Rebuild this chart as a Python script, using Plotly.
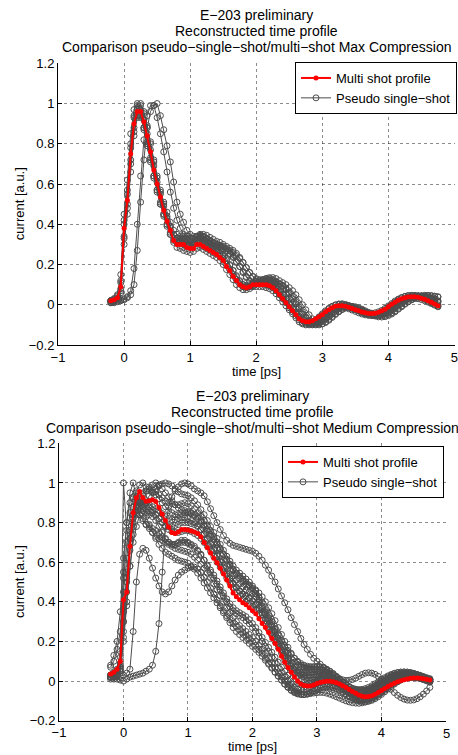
import plotly.graph_objects as go

# ---------------- data ----------------
TIME = [-0.20, -0.15, -0.10, -0.05, 0.00, 0.05, 0.10, 0.15, 0.20, 0.25,
        0.30, 0.35, 0.40, 0.45, 0.50, 0.55, 0.60, 0.65, 0.70, 0.75,
        0.80, 0.85, 0.90, 0.95, 1.00, 1.05, 1.10, 1.15, 1.20, 1.25,
        1.30, 1.35, 1.40, 1.45, 1.50, 1.55, 1.60, 1.65, 1.70, 1.75,
        1.80, 1.85, 1.90, 1.95, 2.00, 2.05, 2.10, 2.15, 2.20, 2.25,
        2.30, 2.35, 2.40, 2.45, 2.50, 2.55, 2.60, 2.65, 2.70, 2.75,
        2.80, 2.85, 2.90, 2.95, 3.00, 3.05, 3.10, 3.15, 3.20, 3.25,
        3.30, 3.35, 3.40, 3.45, 3.50, 3.55, 3.60, 3.65, 3.70, 3.75,
        3.80, 3.85, 3.90, 3.95, 4.00, 4.05, 4.10, 4.15, 4.20, 4.25,
        4.30, 4.35, 4.40, 4.45, 4.50, 4.55, 4.60, 4.65, 4.70, 4.75]

# --- Max compression: multi-shot profile
MAX_MULTI = [0.02, 0.025, 0.035, 0.09, 0.38, 0.52, 0.75, 0.90, 0.96, 0.96,
             0.91, 0.84, 0.76, 0.67, 0.60, 0.535, 0.47, 0.415, 0.37, 0.32,
             0.30, 0.30, 0.30, 0.285, 0.28, 0.28, 0.30, 0.30, 0.29, 0.28,
             0.27, 0.26, 0.25, 0.235, 0.22, 0.19, 0.17, 0.14, 0.12, 0.10,
             0.09, 0.085, 0.09, 0.10, 0.10, 0.10, 0.10, 0.10, 0.095, 0.085,
             0.07, 0.05, 0.03, 0.01, -0.01, -0.03, -0.05, -0.07, -0.08, -0.085,
             -0.085, -0.08, -0.07, -0.06, -0.05, -0.035, -0.025, -0.015, -0.008, -0.005,
             -0.005, -0.008, -0.012, -0.018, -0.025, -0.03, -0.036, -0.04, -0.043, -0.044,
             -0.042, -0.037, -0.03, -0.022, -0.01, 0.002, 0.012, 0.022, 0.03, 0.035,
             0.039, 0.04, 0.04, 0.037, 0.032, 0.027, 0.02, 0.012, 0.004, -0.005]

# --- Max compression: pseudo single-shot profiles
MAX_SHOT_1 = [0.02, 0.03, 0.05, 0.15, 0.45, 0.62, 0.85, 0.97, 1.00, 0.95,
              0.88, 0.80, 0.72, 0.64, 0.57, 0.50, 0.44, 0.39, 0.35, 0.32,
              0.31, 0.31, 0.30, 0.29, 0.29, 0.30, 0.31, 0.31, 0.30, 0.29,
              0.28, 0.27, 0.26, 0.245, 0.23, 0.20, 0.175, 0.15, 0.125, 0.105,
              0.09, 0.085, 0.09, 0.10, 0.105, 0.105, 0.105, 0.10, 0.095, 0.085,
              0.07, 0.05, 0.03, 0.01, -0.015, -0.035, -0.055, -0.075, -0.09, -0.095,
              -0.095, -0.09, -0.08, -0.065, -0.05, -0.035, -0.02, -0.01, -0.002, 0.002,
              0.002, -0.002, -0.008, -0.015, -0.022, -0.03, -0.038, -0.044, -0.048, -0.05,
              -0.048, -0.043, -0.035, -0.025, -0.012, 0.0, 0.012, 0.024, 0.034, 0.04,
              0.044, 0.045, 0.044, 0.04, 0.034, 0.027, 0.018, 0.01, 0.002, -0.006]
MAX_SHOT_2 = [0.015, 0.02, 0.03, 0.06, 0.30, 0.45, 0.66, 0.84, 0.94, 0.99,
              0.95, 0.88, 0.80, 0.71, 0.63, 0.56, 0.50, 0.44, 0.39, 0.35,
              0.33, 0.32, 0.32, 0.31, 0.30, 0.31, 0.32, 0.33, 0.32, 0.31,
              0.30, 0.29, 0.28, 0.27, 0.25, 0.23, 0.20, 0.17, 0.14, 0.115,
              0.10, 0.095, 0.10, 0.11, 0.115, 0.115, 0.11, 0.105, 0.10, 0.09,
              0.08, 0.06, 0.04, 0.02, 0.0, -0.02, -0.04, -0.06, -0.075, -0.085,
              -0.09, -0.085, -0.075, -0.06, -0.045, -0.03, -0.018, -0.008, 0.0, 0.004,
              0.005, 0.002, -0.004, -0.01, -0.018, -0.026, -0.033, -0.038, -0.041, -0.042,
              -0.04, -0.035, -0.028, -0.018, -0.006, 0.006, 0.018, 0.028, 0.036, 0.042,
              0.046, 0.047, 0.046, 0.043, 0.038, 0.032, 0.025, 0.016, 0.008, 0.0]
MAX_SHOT_3 = [0.02, 0.02, 0.03, 0.08, 0.34, 0.50, 0.70, 0.86, 0.93, 0.93,
              0.88, 0.81, 0.73, 0.64, 0.57, 0.51, 0.45, 0.40, 0.35, 0.31,
              0.285, 0.28, 0.27, 0.265, 0.26, 0.265, 0.28, 0.285, 0.275, 0.265,
              0.255, 0.245, 0.235, 0.22, 0.20, 0.175, 0.15, 0.125, 0.10, 0.085,
              0.075, 0.075, 0.08, 0.09, 0.09, 0.09, 0.09, 0.085, 0.08, 0.07,
              0.055, 0.035, 0.015, -0.005, -0.025, -0.045, -0.065, -0.085, -0.095, -0.10,
              -0.10, -0.095, -0.085, -0.072, -0.06, -0.045, -0.033, -0.022, -0.015, -0.012,
              -0.012, -0.015, -0.02, -0.026, -0.033, -0.04, -0.046, -0.05, -0.053, -0.054,
              -0.052, -0.047, -0.04, -0.031, -0.02, -0.008, 0.003, 0.013, 0.021, 0.027,
              0.031, 0.033, 0.032, 0.03, 0.026, 0.02, 0.013, 0.006, -0.002, -0.01]
MAX_SHOT_4 = [0.02, 0.025, 0.04, 0.12, 0.42, 0.57, 0.80, 0.94, 0.99, 0.97,
              0.92, 0.85, 0.77, 0.69, 0.61, 0.55, 0.49, 0.43, 0.39, 0.35,
              0.33, 0.33, 0.33, 0.32, 0.31, 0.31, 0.32, 0.33, 0.34, 0.33,
              0.32, 0.31, 0.30, 0.29, 0.28, 0.27, 0.255, 0.24, 0.21, 0.19,
              0.16, 0.135, 0.115, 0.105, 0.105, 0.11, 0.12, 0.125, 0.125, 0.12,
              0.11, 0.10, 0.09, 0.075, 0.055, 0.03, 0.005, -0.02, -0.045, -0.065,
              -0.08, -0.09, -0.092, -0.09, -0.08, -0.068, -0.055, -0.04, -0.028, -0.018,
              -0.01, -0.006, -0.005, -0.008, -0.014, -0.02, -0.028, -0.035, -0.042, -0.047,
              -0.05, -0.05, -0.047, -0.042, -0.034, -0.024, -0.012, 0.0, 0.012, 0.022,
              0.03, 0.036, 0.04, 0.042, 0.042, 0.04, 0.037, 0.032, 0.026, 0.02]
MAX_SHOT_5 = [0.02, 0.02, 0.03, 0.07, 0.33, 0.48, 0.72, 0.88, 0.97, 1.00,
              0.96, 0.89, 0.81, 0.72, 0.64, 0.57, 0.51, 0.46, 0.41, 0.37,
              0.35, 0.34, 0.34, 0.34, 0.33, 0.33, 0.34, 0.35, 0.35, 0.345,
              0.335, 0.325, 0.315, 0.31, 0.30, 0.29, 0.28, 0.27, 0.255, 0.235,
              0.21, 0.185, 0.16, 0.14, 0.125, 0.12, 0.125, 0.13, 0.135, 0.135,
              0.13, 0.12, 0.11, 0.10, 0.085, 0.07, 0.05, 0.025, 0.0, -0.025,
              -0.05, -0.07, -0.085, -0.095, -0.095, -0.088, -0.077, -0.063, -0.048, -0.035,
              -0.024, -0.015, -0.01, -0.008, -0.01, -0.015, -0.022, -0.03, -0.038, -0.045,
              -0.05, -0.054, -0.055, -0.053, -0.048, -0.04, -0.03, -0.018, -0.006, 0.006,
              0.017, 0.027, 0.035, 0.041, 0.045, 0.047, 0.047, 0.046, 0.043, 0.04]
MAX_SHOT_6 = [0.01, 0.01, 0.015, 0.02, 0.025, 0.035, 0.05, 0.10, 0.27, 0.51,
              0.72, 0.88, 0.96, 0.99, 1.00, 0.94, 0.87, 0.79, 0.71, 0.61,
              0.51, 0.45, 0.41, 0.37, 0.35, 0.34, 0.34, 0.345, 0.34, 0.33,
              0.32, 0.31, 0.30, 0.295, 0.29, 0.28, 0.27, 0.26, 0.245, 0.23,
              0.21, 0.185, 0.16, 0.14, 0.13, 0.125, 0.125, 0.13, 0.13, 0.125,
              0.115, 0.105, 0.095, 0.08, 0.06, 0.04, 0.015, -0.01, -0.035, -0.06,
              -0.08, -0.095, -0.10, -0.10, -0.095, -0.085, -0.072, -0.058, -0.044, -0.032,
              -0.022, -0.015, -0.012, -0.012, -0.015, -0.02, -0.027, -0.035, -0.043, -0.05,
              -0.056, -0.06, -0.061, -0.059, -0.054, -0.046, -0.035, -0.022, -0.01, 0.003,
              0.014, 0.024, 0.032, 0.038, 0.042, 0.044, 0.044, 0.043, 0.041, 0.038]
MAX_SHOT_7 = [0.01, 0.015, 0.02, 0.025, 0.03, 0.04, 0.07, 0.18, 0.40, 0.64,
              0.82, 0.94, 0.99, 0.99, 0.93, 0.85, 0.76, 0.66, 0.56, 0.48,
              0.42, 0.38, 0.35, 0.34, 0.33, 0.33, 0.335, 0.34, 0.335, 0.325,
              0.315, 0.305, 0.295, 0.285, 0.275, 0.265, 0.25, 0.235, 0.215, 0.19,
              0.165, 0.14, 0.12, 0.11, 0.11, 0.115, 0.12, 0.12, 0.12, 0.115,
              0.105, 0.09, 0.075, 0.055, 0.03, 0.005, -0.02, -0.045, -0.07, -0.085,
              -0.095, -0.1, -0.097, -0.088, -0.076, -0.062, -0.048, -0.035, -0.024, -0.016,
              -0.012, -0.011, -0.013, -0.018, -0.024, -0.031, -0.038, -0.045, -0.05, -0.053,
              -0.054, -0.052, -0.047, -0.039, -0.029, -0.017, -0.005, 0.008, 0.019, 0.028,
              0.035, 0.04, 0.043, 0.044, 0.043, 0.04, 0.036, 0.03, 0.024, 0.017]
MAX_SHOT_8 = [0.02, 0.03, 0.045, 0.11, 0.40, 0.55, 0.78, 0.93, 0.98, 0.94,
              0.87, 0.79, 0.71, 0.63, 0.56, 0.50, 0.45, 0.40, 0.36, 0.33,
              0.32, 0.315, 0.31, 0.30, 0.295, 0.30, 0.315, 0.32, 0.31, 0.30,
              0.29, 0.28, 0.27, 0.255, 0.24, 0.22, 0.195, 0.17, 0.145, 0.12,
              0.10, 0.09, 0.09, 0.095, 0.105, 0.11, 0.11, 0.11, 0.105, 0.095,
              0.085, 0.07, 0.05, 0.03, 0.008, -0.015, -0.037, -0.058, -0.075, -0.088,
              -0.095, -0.095, -0.09, -0.08, -0.066, -0.052, -0.038, -0.025, -0.015, -0.008,
              -0.004, -0.004, -0.007, -0.012, -0.018, -0.025, -0.032, -0.039, -0.045, -0.049,
              -0.051, -0.05, -0.046, -0.039, -0.029, -0.017, -0.004, 0.009, 0.02, 0.03,
              0.037, 0.042, 0.045, 0.045, 0.043, 0.039, 0.034, 0.027, 0.02, 0.012]
MAX_SHOTS = [MAX_SHOT_1, MAX_SHOT_2, MAX_SHOT_3, MAX_SHOT_4,
             MAX_SHOT_5, MAX_SHOT_6, MAX_SHOT_7, MAX_SHOT_8]

# --- Medium compression: multi-shot profile
MED_MULTI = [0.036, 0.045, 0.06, 0.10, 0.41, 0.45, 0.68, 0.85, 0.925, 0.957,
             0.925, 0.908, 0.91, 0.915, 0.906, 0.876, 0.843, 0.81, 0.778, 0.75,
             0.745, 0.752, 0.765, 0.765, 0.762, 0.757, 0.752, 0.745, 0.728, 0.70,
             0.673, 0.647, 0.62, 0.597, 0.57, 0.54, 0.51, 0.48, 0.445, 0.425,
             0.41, 0.395, 0.385, 0.37, 0.355, 0.34, 0.315, 0.29, 0.27, 0.245,
             0.215, 0.19, 0.16, 0.125, 0.095, 0.068, 0.045, 0.02, 0.0, -0.015,
             -0.022, -0.025, -0.025, -0.02, -0.012, -0.007, -0.003, -0.001, -0.001, -0.004,
             -0.008, -0.015, -0.024, -0.033, -0.043, -0.053, -0.062, -0.07, -0.076, -0.079,
             -0.078, -0.074, -0.067, -0.058, -0.048, -0.038, -0.028, -0.019, -0.011, -0.004,
             0.002, 0.007, 0.011, 0.014, 0.015, 0.015, 0.014, 0.012, 0.009, 0.005]

# --- Medium compression: pseudo single-shot profiles
MED_SHOT_1 = [0.03, 0.04, 0.06, 0.15, 0.55, 0.80, 0.95, 1.00, 0.93, 0.88,
              0.86, 0.85, 0.84, 0.83, 0.81, 0.78, 0.75, 0.72, 0.70, 0.69,
              0.69, 0.70, 0.71, 0.71, 0.70, 0.69, 0.68, 0.66, 0.64, 0.61,
              0.58, 0.55, 0.52, 0.49, 0.46, 0.43, 0.40, 0.375, 0.355, 0.34,
              0.33, 0.32, 0.305, 0.29, 0.27, 0.25, 0.225, 0.20, 0.175, 0.15,
              0.12, 0.09, 0.065, 0.04, 0.02, 0.0, -0.015, -0.03, -0.04, -0.045,
              -0.045, -0.04, -0.03, -0.02, -0.01, -0.002, 0.004, 0.006, 0.004, -0.002,
              -0.01, -0.02, -0.032, -0.045, -0.058, -0.07, -0.08, -0.088, -0.092, -0.093,
              -0.09, -0.084, -0.075, -0.064, -0.052, -0.04, -0.027, -0.015, -0.004, 0.005,
              0.012, 0.017, 0.02, 0.021, 0.02, 0.018, 0.014, 0.009, 0.003, -0.003]
MED_SHOT_2 = [0.02, 0.025, 0.035, 0.07, 0.30, 0.50, 0.72, 0.88, 0.96, 0.99,
              1.00, 0.98, 0.96, 0.95, 0.94, 0.92, 0.90, 0.88, 0.86, 0.85,
              0.84, 0.84, 0.845, 0.85, 0.85, 0.845, 0.835, 0.82, 0.80, 0.78,
              0.755, 0.73, 0.70, 0.67, 0.64, 0.61, 0.58, 0.555, 0.53, 0.51,
              0.49, 0.475, 0.46, 0.45, 0.44, 0.425, 0.40, 0.37, 0.34, 0.31,
              0.28, 0.25, 0.215, 0.18, 0.145, 0.115, 0.09, 0.07, 0.055, 0.045,
              0.04, 0.04, 0.042, 0.045, 0.047, 0.046, 0.042, 0.035, 0.025, 0.012,
              0.0, -0.012, -0.024, -0.035, -0.045, -0.053, -0.058, -0.06, -0.06, -0.057,
              -0.052, -0.044, -0.035, -0.025, -0.014, -0.003, 0.008, 0.017, 0.025, 0.031,
              0.035, 0.037, 0.038, 0.037, 0.034, 0.03, 0.025, 0.019, 0.013, 0.007]
MED_SHOT_3 = [0.02, 0.02, 0.03, 0.05, 0.20, 0.38, 0.58, 0.74, 0.84, 0.90,
              0.94, 0.96, 0.98, 0.99, 1.00, 0.99, 0.97, 0.95, 0.93, 0.91,
              0.89, 0.875, 0.865, 0.86, 0.855, 0.85, 0.84, 0.83, 0.81, 0.79,
              0.765, 0.74, 0.715, 0.69, 0.665, 0.64, 0.615, 0.59, 0.565, 0.545,
              0.53, 0.515, 0.50, 0.485, 0.465, 0.44, 0.41, 0.38, 0.35, 0.32,
              0.29, 0.26, 0.23, 0.20, 0.17, 0.14, 0.115, 0.095, 0.08, 0.07,
              0.065, 0.062, 0.06, 0.06, 0.06, 0.058, 0.054, 0.047, 0.038, 0.028,
              0.016, 0.004, -0.008, -0.02, -0.03, -0.038, -0.044, -0.047, -0.048, -0.046,
              -0.042, -0.036, -0.028, -0.018, -0.008, 0.002, 0.012, 0.02, 0.027, 0.032,
              0.036, 0.038, 0.038, 0.037, 0.034, 0.03, 0.025, 0.019, 0.013, 0.008]
MED_SHOT_4 = [0.03, 0.035, 0.05, 0.09, 0.35, 0.55, 0.72, 0.82, 0.85, 0.84,
              0.82, 0.79, 0.77, 0.75, 0.73, 0.72, 0.71, 0.70, 0.69, 0.68,
              0.67, 0.665, 0.66, 0.655, 0.65, 0.64, 0.625, 0.61, 0.59, 0.57,
              0.545, 0.52, 0.49, 0.46, 0.43, 0.40, 0.37, 0.345, 0.32, 0.30,
              0.28, 0.265, 0.25, 0.235, 0.22, 0.20, 0.18, 0.16, 0.14, 0.115,
              0.09, 0.065, 0.04, 0.02, 0.0, -0.02, -0.035, -0.05, -0.06, -0.065,
              -0.067, -0.065, -0.06, -0.052, -0.044, -0.037, -0.032, -0.03, -0.031, -0.035,
              -0.041, -0.049, -0.058, -0.068, -0.078, -0.087, -0.095, -0.1, -0.103, -0.104,
              -0.102, -0.097, -0.089, -0.079, -0.067, -0.054, -0.04, -0.027, -0.015, -0.004,
              0.005, 0.012, 0.016, 0.018, 0.018, 0.016, 0.013, 0.008, 0.002, -0.004]
MED_SHOT_5 = [0.07, 0.10, 0.16, 0.25, 0.52, 0.70, 0.85, 0.93, 0.95, 0.92,
              0.89, 0.87, 0.86, 0.85, 0.84, 0.82, 0.80, 0.785, 0.78, 0.78,
              0.785, 0.79, 0.80, 0.80, 0.80, 0.795, 0.79, 0.78, 0.765, 0.745,
              0.72, 0.695, 0.665, 0.635, 0.605, 0.575, 0.545, 0.52, 0.495, 0.475,
              0.455, 0.44, 0.43, 0.42, 0.405, 0.385, 0.36, 0.335, 0.305, 0.275,
              0.245, 0.215, 0.185, 0.155, 0.125, 0.10, 0.075, 0.055, 0.04, 0.03,
              0.022, 0.018, 0.018, 0.02, 0.024, 0.026, 0.026, 0.022, 0.015, 0.006,
              -0.004, -0.015, -0.027, -0.039, -0.05, -0.06, -0.068, -0.073, -0.075, -0.074,
              -0.07, -0.063, -0.054, -0.043, -0.031, -0.019, -0.007, 0.004, 0.013, 0.02,
              0.025, 0.028, 0.029, 0.028, 0.026, 0.023, 0.019, 0.014, 0.009, 0.004]
MED_SHOT_6 = [0.02, 0.03, 0.04, 0.08, 0.30, 0.52, 0.72, 0.84, 0.89, 0.90,
              0.87, 0.83, 0.79, 0.75, 0.72, 0.69, 0.67, 0.65, 0.64, 0.63,
              0.62, 0.61, 0.605, 0.60, 0.595, 0.58, 0.565, 0.545, 0.52, 0.495,
              0.47, 0.445, 0.42, 0.395, 0.37, 0.345, 0.32, 0.295, 0.27, 0.25,
              0.235, 0.22, 0.205, 0.19, 0.175, 0.16, 0.145, 0.125, 0.105, 0.085,
              0.065, 0.045, 0.025, 0.005, -0.015, -0.032, -0.047, -0.058, -0.065, -0.068,
              -0.068, -0.064, -0.057, -0.048, -0.04, -0.033, -0.028, -0.026, -0.027, -0.031,
              -0.037, -0.045, -0.054, -0.064, -0.074, -0.083, -0.09, -0.095, -0.097, -0.096,
              -0.092, -0.086, -0.077, -0.066, -0.054, -0.041, -0.028, -0.016, -0.005, 0.004,
              0.011, 0.016, 0.019, 0.02, 0.019, 0.017, 0.013, 0.008, 0.002, -0.005]
MED_SHOT_7 = [0.02, 0.02, 0.03, 0.06, 0.25, 0.45, 0.66, 0.80, 0.88, 0.93,
              0.95, 0.96, 0.97, 0.965, 0.955, 0.94, 0.925, 0.91, 0.90, 0.895,
              0.89, 0.89, 0.895, 0.90, 0.895, 0.885, 0.87, 0.85, 0.83, 0.81,
              0.785, 0.76, 0.73, 0.70, 0.67, 0.64, 0.61, 0.585, 0.56, 0.54,
              0.52, 0.505, 0.49, 0.48, 0.47, 0.46, 0.445, 0.425, 0.40, 0.37,
              0.34, 0.305, 0.27, 0.235, 0.20, 0.17, 0.14, 0.115, 0.095, 0.08,
              0.072, 0.068, 0.068, 0.07, 0.072, 0.072, 0.068, 0.06, 0.05, 0.038,
              0.024, 0.01, -0.004, -0.017, -0.028, -0.036, -0.041, -0.043, -0.042, -0.038,
              -0.032, -0.024, -0.014, -0.004, 0.007, 0.017, 0.026, 0.033, 0.039, 0.043,
              0.045, 0.046, 0.045, 0.042, 0.038, 0.033, 0.027, 0.021, 0.015, 0.01]
MED_SHOT_8 = [0.08, 0.13, 0.20, 0.35, 0.62, 0.80, 0.90, 0.92, 0.88, 0.84,
              0.81, 0.79, 0.78, 0.77, 0.76, 0.745, 0.73, 0.715, 0.70, 0.69,
              0.69, 0.695, 0.70, 0.70, 0.695, 0.685, 0.67, 0.655, 0.635, 0.61,
              0.585, 0.56, 0.535, 0.505, 0.475, 0.445, 0.415, 0.39, 0.37, 0.355,
              0.345, 0.335, 0.325, 0.31, 0.29, 0.27, 0.245, 0.22, 0.195, 0.17,
              0.145, 0.12, 0.095, 0.07, 0.05, 0.03, 0.012, -0.002, -0.012, -0.018,
              -0.02, -0.018, -0.013, -0.006, 0.0, 0.005, 0.008, 0.008, 0.005, 0.0,
              -0.007, -0.016, -0.026, -0.037, -0.048, -0.058, -0.066, -0.072, -0.075, -0.075,
              -0.072, -0.067, -0.059, -0.049, -0.038, -0.026, -0.014, -0.003, 0.007, 0.015,
              0.021, 0.025, 0.027, 0.027, 0.026, 0.023, 0.019, 0.014, 0.008, 0.002]
MED_SHOT_9 = [0.02, 0.02, 0.03, 0.05, 1.00, 0.76, 0.70, 0.78, 0.86, 0.90,
              0.91, 0.90, 0.88, 0.86, 0.84, 0.82, 0.80, 0.78, 0.765, 0.755,
              0.75, 0.75, 0.755, 0.76, 0.76, 0.755, 0.745, 0.735, 0.72, 0.70,
              0.68, 0.655, 0.63, 0.60, 0.575, 0.55, 0.52, 0.495, 0.47, 0.45,
              0.43, 0.415, 0.40, 0.39, 0.375, 0.36, 0.34, 0.315, 0.29, 0.26,
              0.23, 0.20, 0.17, 0.14, 0.11, 0.085, 0.06, 0.04, 0.025, 0.012,
              0.005, 0.002, 0.002, 0.005, 0.009, 0.012, 0.013, 0.011, 0.006, -0.001,
              -0.01, -0.02, -0.031, -0.042, -0.053, -0.062, -0.069, -0.073, -0.074, -0.072,
              -0.068, -0.061, -0.052, -0.042, -0.031, -0.019, -0.008, 0.003, 0.012, 0.02,
              0.026, 0.03, 0.032, 0.032, 0.03, 0.027, 0.022, 0.017, 0.011, 0.005]
MED_SHOT_10 = [0.02, 0.02, 0.02, 0.025, 0.03, 0.04, 0.06, 0.25, 0.50, 0.64,
               0.67, 0.66, 0.62, 0.57, 0.52, 0.48, 0.45, 0.44, 0.45, 0.48,
               0.51, 0.535, 0.55, 0.56, 0.57, 0.575, 0.575, 0.565, 0.55, 0.525,
               0.50, 0.47, 0.44, 0.41, 0.38, 0.355, 0.33, 0.31, 0.29, 0.275,
               0.26, 0.245, 0.23, 0.215, 0.20, 0.18, 0.16, 0.14, 0.115, 0.09,
               0.07, 0.045, 0.025, 0.005, -0.015, -0.03, -0.045, -0.055, -0.062, -0.066,
               -0.067, -0.066, -0.063, -0.06, -0.058, -0.057, -0.058, -0.061, -0.066, -0.072,
               -0.079, -0.086, -0.093, -0.10, -0.105, -0.109, -0.111, -0.112, -0.11, -0.106,
               -0.10, -0.092, -0.082, -0.071, -0.059, -0.046, -0.033, -0.021, -0.01, 0.0,
               0.008, 0.014, 0.018, 0.02, 0.02, 0.018, 0.015, 0.01, 0.004, -0.002]
MED_SHOT_11 = [0.01, 0.01, 0.01, 0.005, 0.0, 0.01, 0.02, 0.025, 0.03, 0.035,
               0.04, 0.05, 0.06, 0.08, 0.15, 0.29, 0.55, 0.78, 0.88, 0.93,
               0.96, 0.98, 0.995, 1.00, 0.995, 0.985, 0.97, 0.96, 0.95, 0.935,
               0.905, 0.87, 0.835, 0.80, 0.765, 0.735, 0.71, 0.695, 0.685, 0.68,
               0.675, 0.67, 0.665, 0.66, 0.655, 0.645, 0.63, 0.61, 0.585, 0.56,
               0.53, 0.50, 0.465, 0.43, 0.395, 0.36, 0.32, 0.285, 0.25, 0.215,
               0.185, 0.16, 0.135, 0.115, 0.10, 0.085, 0.07, 0.055, 0.04, 0.03,
               0.02, 0.012, 0.006, 0.003, 0.004, 0.008, 0.015, 0.024, 0.033, 0.04,
               0.042, 0.04, 0.034, 0.024, 0.01, -0.006, -0.024, -0.042, -0.058, -0.072,
               -0.083, -0.091, -0.096, -0.097, -0.095, -0.089, -0.079, -0.066, -0.05, -0.032]
MED_SHOT_12 = [0.02, 0.025, 0.03, 0.06, 0.22, 0.40, 0.58, 0.70, 0.78, 0.84,
               0.88, 0.91, 0.935, 0.955, 0.97, 0.985, 0.995, 1.00, 0.995, 0.985,
               0.97, 0.955, 0.945, 0.94, 0.935, 0.925, 0.91, 0.89, 0.865, 0.84,
               0.81, 0.78, 0.75, 0.72, 0.69, 0.66, 0.63, 0.605, 0.58, 0.56,
               0.545, 0.53, 0.515, 0.50, 0.48, 0.455, 0.425, 0.395, 0.36, 0.33,
               0.30, 0.265, 0.235, 0.205, 0.18, 0.155, 0.135, 0.115, 0.10, 0.088,
               0.08, 0.075, 0.073, 0.073, 0.073, 0.071, 0.066, 0.058, 0.048, 0.036,
               0.022, 0.008, -0.006, -0.019, -0.03, -0.039, -0.045, -0.048, -0.048, -0.045,
               -0.04, -0.032, -0.022, -0.011, 0.0, 0.011, 0.021, 0.03, 0.037, 0.042,
               0.045, 0.046, 0.045, 0.043, 0.039, 0.034, 0.029, 0.023, 0.017, 0.012]
MED_SHOT_13 = [0.03, 0.04, 0.05, 0.12, 0.45, 0.62, 0.76, 0.84, 0.88, 0.90,
               0.905, 0.90, 0.89, 0.88, 0.87, 0.86, 0.845, 0.83, 0.82, 0.815,
               0.815, 0.82, 0.825, 0.825, 0.82, 0.81, 0.80, 0.785, 0.765, 0.74,
               0.715, 0.69, 0.66, 0.63, 0.60, 0.57, 0.54, 0.515, 0.49, 0.47,
               0.455, 0.44, 0.43, 0.42, 0.405, 0.39, 0.37, 0.345, 0.315, 0.285,
               0.255, 0.225, 0.19, 0.16, 0.13, 0.105, 0.08, 0.06, 0.045, 0.035,
               0.03, 0.028, 0.03, 0.034, 0.038, 0.04, 0.038, 0.033, 0.025, 0.014,
               0.002, -0.01, -0.022, -0.033, -0.043, -0.051, -0.056, -0.058, -0.057, -0.053,
               -0.047, -0.039, -0.029, -0.018, -0.007, 0.004, 0.014, 0.023, 0.03, 0.035,
               0.038, 0.039, 0.039, 0.037, 0.034, 0.03, 0.025, 0.019, 0.013, 0.008]
MED_SHOTS = [MED_SHOT_1, MED_SHOT_2, MED_SHOT_3, MED_SHOT_4, MED_SHOT_5,
             MED_SHOT_6, MED_SHOT_7, MED_SHOT_8, MED_SHOT_9, MED_SHOT_10,
             MED_SHOT_11, MED_SHOT_12, MED_SHOT_13]

for s in [MAX_MULTI, MED_MULTI] + MAX_SHOTS + MED_SHOTS:
    assert len(s) == len(TIME), len(s)

X_RANGE = [-1, 5.0005]
Y_RANGE = [-0.2, 1.2001]
X_TICKS = [-1, 0, 1, 2, 3, 4, 5]
X_TICK_TEXT = ["\u22121", "0", "1", "2", "3", "4", "5"]
Y_TICKS = [-0.2, 0, 0.2, 0.4, 0.6, 0.8, 1, 1.2]
Y_TICK_TEXT = ["\u22120.2", "0", "0.2", "0.4", "0.6", "0.8", "1", "1.2"]

TITLE_MAX = ["E\u2212203 preliminary", "Reconstructed time profile",
             "Comparison pseudo\u2212single\u2212shot/multi\u2212shot Max Compression"]
TITLE_MED = ["E\u2212203 preliminary", "Reconstructed time profile",
             "Comparison pseudo\u2212single\u2212shot/multi\u2212shot Medium Compression"]
NAME_MULTI = "Multi shot profile"
NAME_SHOT = "Pseudo single\u2212shot"
X_LABEL = "time [ps]"
Y_LABEL = "current [a.u.]"

# ---------------- figure ----------------
W, H = 458, 755
FONT = "Liberation Sans, Arial, Helvetica, sans-serif"
GRAY = "#4d4d4d"
RED = "#ff0000"

fig = go.Figure()


def add_panel(shots, multi, xa, ya, legend_name):
    for k, s in enumerate(shots):
        fig.add_trace(go.Scatter(
            x=TIME, y=s, mode="lines+markers", xaxis=xa, yaxis=ya,
            name=NAME_SHOT, legend=legend_name, showlegend=(k == 0), legendrank=2,
            line=dict(color=GRAY, width=1),
            marker=dict(symbol="circle-open", size=6, color=GRAY, line=dict(width=1, color=GRAY)),
        ))
    fig.add_trace(go.Scatter(
        x=TIME, y=multi, mode="lines+markers", xaxis=xa, yaxis=ya,
        name=NAME_MULTI, legend=legend_name, legendrank=1,
        line=dict(color=RED, width=2),
        marker=dict(symbol="circle", size=5, color=RED),
    ))


add_panel(MAX_SHOTS, MAX_MULTI, "x", "y", "legend")
add_panel(MED_SHOTS, MED_MULTI, "x2", "y2", "legend2")


def px_x(p):
    return p / W


def px_y(p):
    return 1 - p / H


TICK_FONT = dict(family=FONT, size=13, color="black")
axis_common = dict(
    showline=True, linecolor="black", linewidth=1, mirror=False,
    ticks="inside", ticklen=4, tickcolor="black", showgrid=True,
    gridcolor="rgba(0,0,0,0.45)", griddash="dot", gridwidth=1, zeroline=False,
    tickfont=TICK_FONT, ticklabeloverflow="allow",
)
xaxis_common = dict(axis_common, range=X_RANGE, tickvals=X_TICKS, ticktext=X_TICK_TEXT)
yaxis_common = dict(axis_common, range=Y_RANGE, tickvals=Y_TICKS, ticktext=Y_TICK_TEXT)

# panel pixel boxes (left, right, top, bottom)
P1 = (58, 454.5, 63.3, 345)
P2 = (59, 446, 443.3, 720.7)

legend_common = dict(
    bgcolor="white", bordercolor="black", borderwidth=1,
    font=dict(family=FONT, size=13, color="black"),
    xanchor="right", yanchor="top", itemwidth=30, tracegroupgap=0,
)

fig.update_layout(
    width=W, height=H, margin=dict(l=0, r=0, t=0, b=0, autoexpand=False),
    paper_bgcolor="white", plot_bgcolor="white",
    font=dict(family=FONT, size=13, color="black"),
    xaxis=dict(xaxis_common, domain=[px_x(P1[0]), px_x(P1[1])], anchor="y"),
    yaxis=dict(yaxis_common, domain=[px_y(P1[3]), px_y(P1[2])], anchor="x"),
    xaxis2=dict(xaxis_common, domain=[px_x(P2[0]), px_x(P2[1])], anchor="y2",
                ticktext=X_TICK_TEXT[:-1] + [""]),
    yaxis2=dict(yaxis_common, domain=[px_y(P2[3]), px_y(P2[2])], anchor="x2"),
    legend=dict(legend_common, x=px_x(457), y=px_y(62)),
    legend2=dict(legend_common, x=px_x(444), y=px_y(446)),
    showlegend=True,
)

annots = []
for lines, cx, ys in [(TITLE_MAX, (P1[0] + P1[1]) / 2, (15, 31, 47.5)),
                      (TITLE_MED, (P2[0] + P2[1]) / 2, (395.5, 411.5, 427.5))]:
    for txt, yy in zip(lines, ys):
        annots.append(dict(text=txt, x=px_x(cx), y=px_y(yy), xanchor="center", yanchor="middle",
                           font=dict(family=FONT, size=14, color="black")))
for cx, yy in [((P1[0] + P1[1]) / 2, 372), ((P2[0] + P2[1]) / 2, 746.5)]:
    annots.append(dict(text=X_LABEL, x=px_x(cx), y=px_y(yy), xanchor="center", yanchor="middle",
                       font=dict(family=FONT, size=13, color="black")))
for cy in [(P1[2] + P1[3]) / 2, (P2[2] + P2[3]) / 2]:
    annots.append(dict(text=Y_LABEL, x=px_x(19), y=px_y(cy), textangle=-90,
                       xanchor="center", yanchor="middle",
                       font=dict(family=FONT, size=13, color="black")))
# last x tick label of the lower panel (paper coordinates of the axis end)
annots.append(dict(text=X_TICK_TEXT[-1], x=px_x(P2[1]), y=px_y(P2[3] + 12.5),
                   xanchor="center", yanchor="middle", font=TICK_FONT))
for a in annots:
    fig.add_annotation(dict(a, xref="paper", yref="paper", showarrow=False))

fig.write_html(
    "out.html",
    config={"displayModeBar": False},
    post_script="document.body.style.margin='0';document.body.style.overflow='hidden';"
                "document.documentElement.style.overflow='hidden';",
)
